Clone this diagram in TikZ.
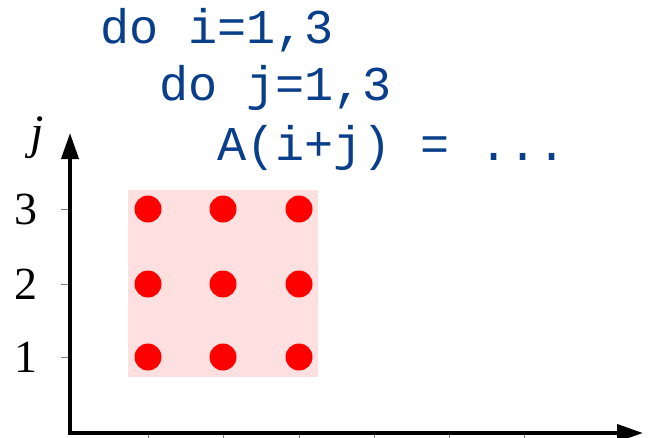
\documentclass[tikz,border=0pt]{standalone}
\usepackage{fontspec}
\setmonofont{Liberation Mono}
\newfontfamily\axisfont{Liberation Serif}
\usetikzlibrary{arrows.meta}
\definecolor{codeblue}{RGB}{8,62,138}
\definecolor{boxpink}{RGB}{255,224,224}
\tikzset{
    codeline/.style = {anchor=base west, inner sep=0pt, text=codeblue,
        font=\fontsize{48.5}{56}\selectfont\ttfamily},
    ticklabel/.style = {anchor=east, inner sep=0pt,
        font=\fontsize{46}{50}\selectfont\axisfont},
    iterpt/.style = {circle, fill=red, inner sep=0pt, minimum size=27pt},
    axisline/.style = {line width=4pt, -{Triangle[length=26pt,width=17pt]}}
}
\begin{document}
\begin{tikzpicture}[x=1pt,y=-1pt]
            \useasboundingbox (0,0) rectangle (663,437);
            % loop nest
            \node[codeline] (outer) at (100.6,43) {do i=1,3};
            \node[codeline] (inner) at (159,100) {do j=1,3};
            \node[codeline] (body) at (217,160) {A(i+j) = ...};
            % iteration space
            \fill[boxpink] (128,190) rectangle (318,377);
            \coordinate (origin) at (70,433);
            \coordinate (xend) at (643,433);
            \coordinate (yend) at (70,133);
            \foreach \k/\ypos in {1/357,2/284,3/209} {
                \draw[gray, line width=1pt] (61,\ypos) -- (68,\ypos);
                \node[ticklabel] (lab\k) at (38,\ypos) {\k};
            }
            \foreach \xpos in {148,223,299,374,449,524} {
                \draw[gray, line width=1pt] (\xpos,435) -- (\xpos,441);
            }
            \node[anchor=base, inner sep=0pt, font=\fontsize{48}{50}\selectfont\axisfont\itshape] (jlab) at (37,148) {j};
            \foreach \i/\xpos in {1/148,2/223,3/299} {
                \foreach \j/\ypos in {1/357,2/284,3/209} {
                    \node[iterpt] (p\i\j) at (\xpos,\ypos) {};
                }
            }
            \draw[axisline] ([xshift=-2pt]origin) -- (xend);
            \draw[axisline] ([yshift=-2pt]origin) -- (yend);
        \end{tikzpicture}
\end{document}
